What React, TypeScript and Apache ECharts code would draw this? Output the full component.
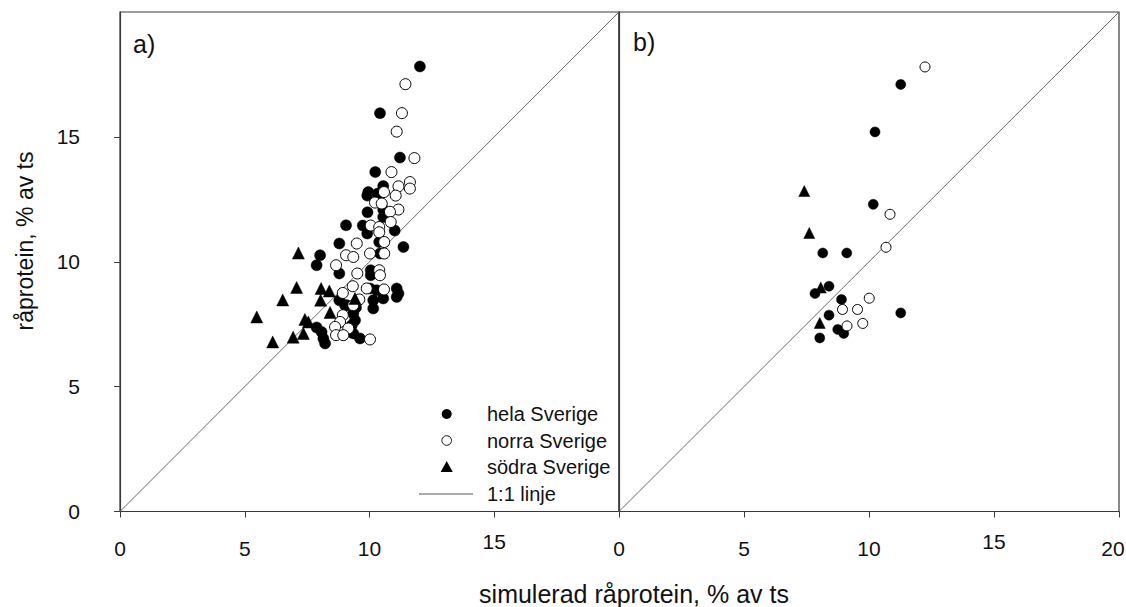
import React, { useEffect, useRef } from "react";
import * as echarts from "echarts";

// Panel a) observed vs simulated crude protein
const aHela: number[][] = [
  [12.02, 17.82], [10.42, 15.95], [11.22, 14.17], [10.23, 13.59], [10.55, 13.03],
  [9.95, 12.79], [9.91, 12.65], [10.33, 12.73], [10.55, 12.09], [9.92, 11.98],
  [10.55, 11.79], [9.06, 11.46], [9.73, 11.45], [11.01, 11.25], [9.91, 11.13],
  [8.79, 10.73], [10.39, 10.79], [11.36, 10.59], [8.02, 10.26], [7.88, 9.86],
  [10.42, 10.33], [8.79, 9.53], [10.05, 9.66], [10.05, 9.46], [10.29, 8.86],
  [11.09, 8.93], [11.09, 8.59], [10.55, 8.53], [10.15, 8.46], [10.15, 8.13],
  [8.79, 8.46], [9.09, 8.26], [9.46, 8.17], [9.35, 7.93], [9.42, 7.66],
  [9.29, 7.46], [7.88, 7.37], [8.08, 7.19], [8.22, 6.73], [9.62, 6.93],
  [8.15, 6.93], [11.16, 8.73], [10.02, 8.93], [9.35, 7.13], [9.02, 8.26]
];
const aNorra: number[][] = [
  [11.44, 17.11], [11.3, 15.95], [11.09, 15.21], [11.8, 14.15], [10.88, 13.59],
  [11.16, 13.02], [11.62, 13.19], [11.62, 12.93], [10.58, 12.79], [11.05, 12.65],
  [10.22, 12.37], [10.49, 12.33], [11.16, 12.09], [10.82, 12.0], [10.85, 11.59],
  [10.05, 11.45], [10.39, 11.39], [10.39, 11.18], [9.49, 10.73], [10.02, 10.33],
  [10.59, 10.79], [9.06, 10.26], [9.35, 10.19], [10.59, 10.33], [8.66, 9.86],
  [9.51, 9.53], [10.39, 9.66], [10.42, 9.46], [9.33, 9.02], [8.93, 8.75],
  [9.89, 8.93], [10.58, 8.89], [9.59, 8.49], [9.35, 8.26], [8.93, 7.86],
  [8.82, 7.59], [8.62, 7.39], [9.15, 7.33], [8.66, 7.06], [8.95, 7.06],
  [10.02, 6.89]
];
const aSodra: number[][] = [
  [7.15, 10.35], [7.08, 8.97], [8.06, 8.93], [8.39, 8.83], [8.04, 8.46],
  [6.52, 8.47], [5.48, 7.79], [8.42, 7.97], [7.41, 7.69], [7.55, 7.59],
  [7.35, 7.13], [6.94, 6.98], [6.12, 6.79], [9.42, 8.53]
];

// Panel b)
const bHela: number[][] = [
  [11.27, 17.1], [10.24, 15.2], [10.17, 12.3], [8.15, 10.35], [9.11, 10.35],
  [7.84, 8.73], [8.4, 9.02], [8.9, 8.49], [11.27, 7.95], [8.4, 7.86],
  [8.75, 7.29], [8.99, 7.13], [8.03, 6.95]
];
const bNorra: number[][] = [
  [12.24, 17.8], [10.84, 11.9], [10.68, 10.58], [10.01, 8.54], [8.94, 8.09],
  [9.54, 8.09], [9.75, 7.53], [9.12, 7.43]
];
const bSodra: number[][] = [
  [7.41, 12.83], [7.61, 11.15], [8.07, 8.97], [8.03, 7.55]
];

const oneToOne: number[][] = [[0, 0], [20, 20]];
const xTicks = [0, 5, 10, 15, 20];
const yTicks = [0, 5, 10, 15];
const legendNames = ["hela Sverige", "norra Sverige", "södra Sverige", "1:1 linje"];

const FONT = "'Liberation Sans', Arial, sans-serif";
const AX = "#3a3a3a";

export default function App() {
  const ref = useRef<HTMLDivElement>(null);
  useEffect(() => {
    if (!ref.current) return;
    const chart = echarts.init(ref.current, undefined, { renderer: "svg" });

    const xAxisBase = (gridIndex: number, hide20: boolean) => ({
      type: "value",
      gridIndex,
      min: 0,
      max: 20,
      interval: 5,
      splitLine: { show: false },
      axisLine: { show: true, lineStyle: { color: AX, width: 1.2 } },
      axisTick: { show: true, inside: false, length: 6, lineStyle: { color: AX } },
      axisLabel: {
        margin: 20,
        color: "#111",
        fontFamily: FONT,
        fontSize: 21,
        showMaxLabel: !hide20,
        formatter: (v: number) => {
          if (hide20 && v === 20) return "";
          if (xTicks.indexOf(v) < 0) return "";
          if (v === 20) return "{e|20}";
          return v === 15 ? "{h|15}" : "{n|" + v + "}";
        },
        rich: {
          n: { lineHeight: 34, fontSize: 21, fontFamily: FONT, color: "#111" },
          e: { lineHeight: 34, fontSize: 21, fontFamily: FONT, color: "#111", padding: [0, 12, 0, 0] },
          h: { lineHeight: 20, fontSize: 21, fontFamily: FONT, color: "#111" }
        }
      }
    });

    const scatter = (name: string, data: number[][], idx: number, kind: string, size: number) => ({
      name,
      type: "scatter",
      xAxisIndex: idx,
      yAxisIndex: idx,
      data,
      symbol: kind === "tri" ? "triangle" : "circle",
      symbolSize: kind === "tri" ? size + 1 : size,
      itemStyle:
        kind === "open"
          ? { color: "#fff", borderColor: "#000", borderWidth: 1, opacity: 1 }
          : { color: "#000", borderColor: "#000", borderWidth: 0.5, opacity: 1 },
      silent: true
    });

    const diag = (idx: number) => ({
      name: legendNames[3],
      type: "line",
      xAxisIndex: idx,
      yAxisIndex: idx,
      data: oneToOne,
      symbol: "none",
      lineStyle: { color: "#6a6a6a", width: 1 },
      silent: true,
      z: 1
    });

    const lx = 446.7;
    const tri = (cx: number, cy: number, s: number) => [
      [cx, cy - s * 0.55],
      [cx + s * 0.55, cy + s * 0.45],
      [cx - s * 0.55, cy + s * 0.45]
    ];
    const legendText = (t: string, y: number) => ({
      type: "text",
      x: 487,
      y,
      style: { text: t, fontFamily: FONT, fontSize: 20, fill: "#111", textVerticalAlign: "middle" }
    });

    chart.setOption({
      animation: false,
      backgroundColor: "#fff",
      grid: [
        { left: 120, top: 12, width: 499, height: 499.5, show: true, borderColor: AX, borderWidth: 1.2, backgroundColor: "transparent", containLabel: false, outerBoundsMode: "none" },
        { left: 619, top: 12, width: 500, height: 499.5, show: true, borderColor: AX, borderWidth: 1.2, backgroundColor: "transparent", containLabel: false, outerBoundsMode: "none" }
      ],
      xAxis: [xAxisBase(0, true), xAxisBase(1, false)],
      yAxis: [
        {
          type: "value",
          gridIndex: 0,
          min: 0,
          max: 20,
          interval: 5,
          splitLine: { show: false },
          axisLine: { show: true, lineStyle: { color: AX, width: 1.2 } },
          axisTick: { show: true, length: 6, lineStyle: { color: AX }, customValues: yTicks },
          axisLabel: {
            margin: 40,
            color: "#111",
            fontFamily: FONT,
            fontSize: 21,
            customValues: yTicks,
            formatter: (v: number) => (v === 20 ? "" : String(v))
          }
        },
        {
          type: "value",
          gridIndex: 1,
          min: 0,
          max: 20,
          interval: 5,
          splitLine: { show: false },
          axisLine: { show: true, lineStyle: { color: AX, width: 1.2 } },
          axisTick: { show: false },
          axisLabel: { show: false }
        }
      ],
      series: [
        diag(0),
        diag(1),
        scatter(legendNames[0], aHela, 0, "fill", 11),
        scatter(legendNames[1], aNorra, 0, "open", 11),
        scatter(legendNames[2], aSodra, 0, "tri", 11),
        scatter(legendNames[0], bHela, 1, "fill", 10),
        scatter(legendNames[1], bNorra, 1, "open", 10),
        scatter(legendNames[2], bSodra, 1, "tri", 10)
      ],
      graphic: [
        { type: "text", x: 133, y: 44, style: { text: "a)", fontFamily: FONT, fontSize: 25, fill: "#111", textVerticalAlign: "middle" } },
        { type: "text", x: 633, y: 42, style: { text: "b)", fontFamily: FONT, fontSize: 25, fill: "#111", textVerticalAlign: "middle" } },
        {
          type: "text",
          x: 25,
          y: 241,
          rotation: Math.PI / 2,
          style: { text: "råprotein, % av ts", fontFamily: FONT, fontSize: 23, fill: "#111", textAlign: "center", textVerticalAlign: "middle" }
        },
        {
          type: "text",
          x: 634,
          y: 594,
          style: { text: "simulerad råprotein, % av ts", fontFamily: FONT, fontSize: 25, fill: "#111", textAlign: "center", textVerticalAlign: "middle" }
        },
        { type: "circle", shape: { cx: lx, cy: 414, r: 5 }, style: { fill: "#000" } },
        { type: "circle", shape: { cx: lx, cy: 440.5, r: 4.8 }, style: { fill: "#fff", stroke: "#111", lineWidth: 1 } },
        { type: "polygon", shape: { points: tri(lx, 467, 11) }, style: { fill: "#000" } },
        { type: "line", shape: { x1: 419, y1: 494, x2: 473, y2: 494 }, style: { stroke: "#555", lineWidth: 1 } },
        legendText(legendNames[0], 414),
        legendText(legendNames[1], 440.5),
        legendText(legendNames[2], 467),
        legendText(legendNames[3], 494)
      ]
    });
    return () => chart.dispose();
  }, []);
  return (
    <div
      ref={ref}
      style={{ position: "fixed", left: 0, top: 0, width: 1126, height: 607, background: "#fff" }}
    />
  );
}
